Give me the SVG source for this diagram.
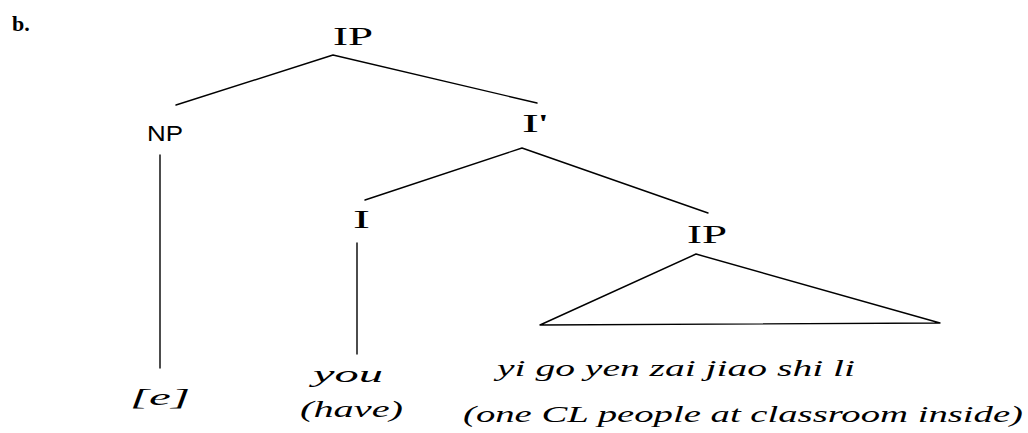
<svg xmlns="http://www.w3.org/2000/svg" width="1028" height="433" viewBox="0 0 1028 433">
<style>
.lbl{font-family:"Liberation Serif",serif;font-size:26px;fill:#000}
.hw{font-family:"Liberation Serif",serif;font-style:italic;font-size:24px;fill:#000}
.edge{stroke:#000;stroke-width:1.4;fill:none;stroke-linecap:round;stroke-linejoin:round}
</style>
<rect width="1028" height="433" fill="#fff"/>
<text x="12" y="31" font-family="Liberation Serif, serif" font-weight="bold" font-size="22">b.</text>
<g id="connectors">
<polyline class="edge" points="176,105 333,55 537,103"/>
<line class="edge" x1="160" y1="155" x2="160" y2="368"/>
<polyline class="edge" points="365,200 522,148 708,213"/>
<line class="edge" x1="357" y1="243" x2="357" y2="354"/>
<polygon class="edge" points="696,254 540,325 940,323"/>
</g>
<g id="IP-top"><text class="lbl" x="333" y="45" textLength="40" lengthAdjust="spacingAndGlyphs">IP</text></g>
<g id="NP"><text x="147" y="141" font-family="Liberation Sans, sans-serif" font-size="22" textLength="36" lengthAdjust="spacingAndGlyphs">NP</text></g>
<g id="Ibar"><text class="lbl" x="522" y="132" textLength="26" lengthAdjust="spacingAndGlyphs">I'</text></g>
<g id="I"><text class="lbl" x="353" y="228" textLength="17" lengthAdjust="spacingAndGlyphs">I</text></g>
<g id="IP-low"><text class="lbl" x="687" y="243" textLength="40" lengthAdjust="spacingAndGlyphs">IP</text></g>
<g id="e"><text class="hw" x="130" y="405" textLength="60" lengthAdjust="spacingAndGlyphs">[e]</text></g>
<g id="you">
<text class="hw" x="313" y="382" textLength="70" lengthAdjust="spacingAndGlyphs">you</text>
<text class="hw" x="300" y="417" textLength="103" lengthAdjust="spacingAndGlyphs">(have)</text>
</g>
<g id="yi-go">
<text class="hw" x="497" y="376" textLength="358" lengthAdjust="spacingAndGlyphs">yi go yen zai jiao shi li</text>
<text class="hw" x="463" y="422" textLength="560" lengthAdjust="spacingAndGlyphs">(one CL people at classroom inside)</text>
</g>
</svg>
